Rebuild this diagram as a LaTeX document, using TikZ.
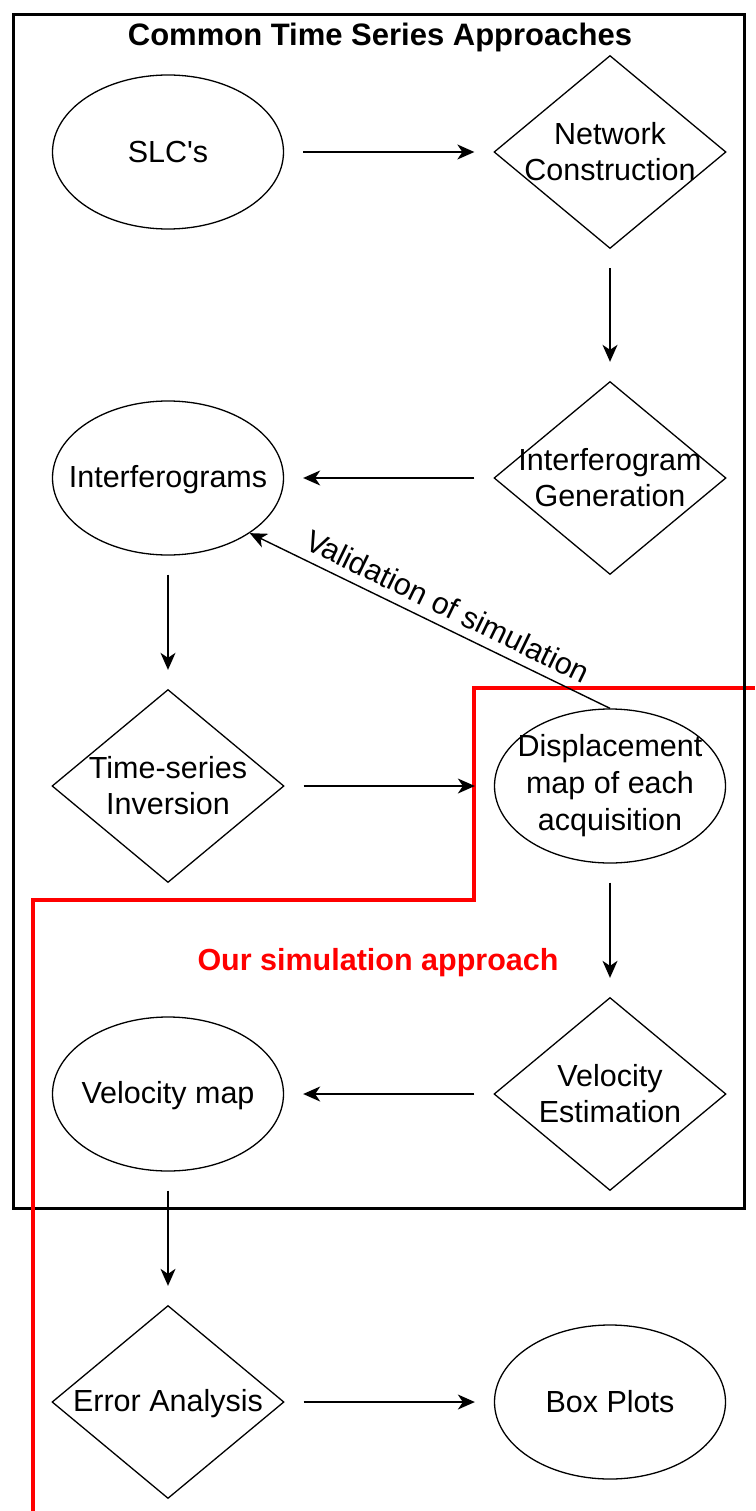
\documentclass[tikz,border=0pt]{standalone}
\usepackage{fontspec}
\setmainfont{Liberation Sans}
\usetikzlibrary{shapes.geometric,arrows.meta}

\tikzset{
  blob/.style={ellipse, draw, line width=1.3pt, minimum width=231pt, minimum height=154pt, inner sep=0pt},
  gem/.style={diamond, draw, line width=1.3pt, minimum width=232pt, minimum height=193pt, inner sep=0pt},
  tx/.style={align=center, inner sep=0pt, font=\fontsize{30.5}{36}\selectfont},
  flow/.style={-{Stealth[length=17pt,width=15pt,inset=5pt]}, line width=1.4pt, shorten <=19pt, shorten >=19pt},
  frame/.style={line width=3pt, line join=miter},
  simline/.style={draw=red, line width=3.3pt, line join=miter},
}

\begin{document}
\begin{tikzpicture}[x=1pt,y=1pt]
\useasboundingbox (0,0) rectangle (755,-1511);

% outer frame of the common approaches
\draw[frame] (13,-15) rectangle (744,-1208);
\node[tx, font=\fontsize{31}{36}\selectfont\bfseries, anchor=base] (title) at (380,-46) {Common Time Series Approaches};

% boundary of the simulation approach
\coordinate (r0) at (755,-688);
\coordinate (r1) at (474,-688);
\coordinate (r2) at (474,-900);
\coordinate (r3) at (33,-900);
\coordinate (r4) at (33,-1511);
\draw[simline] (r0) -- (r1) -- (r2) -- (r3) -- (r4);
\draw[line width=3pt] (744,-670) -- (744,-710);
\node[tx, font=\fontsize{30.5}{36}\selectfont\bfseries, text=red, anchor=base] (simlabel) at (378,-970) {Our simulation approach};

% shapes
\node[blob] (slc)  at (168,-152) {};
\node[gem]  (nc)   at (610,-152) {};
\node[gem]  (igen) at (610,-478) {};
\node[blob] (ifg)  at (168,-478) {};
\node[gem]  (tsi)  at (168,-786) {};
\node[blob] (disp) at (610,-786) {};
\node[gem]  (ve)   at (610,-1094) {};
\node[blob] (vm)   at (168,-1094) {};
\node[gem]  (ea)   at (168,-1402) {};
\node[blob] (bp)   at (610,-1402) {};

% texts
\node[tx] (slc-t)  at (slc)  {SLC\textquotesingle s};
\node[tx] (nc-t)   at (nc)   {Network\\Construction};
\node[tx] (igen-t) at (igen) {Interferogram\\Generation};
\node[tx] (ifg-t)  at ([yshift=-2pt]ifg)  {Interferograms};
\node[tx] (tsi-t)  at (tsi)  {Time-series\\Inversion};
\node[tx, font=\fontsize{30.5}{37}\selectfont] (disp-t) at (disp) {Displacement\\map of each\\acquisition};
\node[tx] (ve-t)   at (ve)   {Velocity\\Estimation};
\node[tx] (vm-t)   at ([yshift=-2pt]vm)   {Velocity map};
\node[tx] (ea-t)   at ([yshift=-2pt]ea)   {Error Analysis};
\node[tx] (bp-t)   at (bp)   {Box Plots};

% connectors
\draw[flow] (slc) -- (nc);
\draw[flow] (nc) -- (igen);
\draw[flow] (igen) -- (ifg);
\draw[flow] (ifg) -- (tsi);
\draw[flow] (tsi) -- (disp);
\draw[flow] (disp) -- (ve);
\draw[flow] (ve) -- (vm);
\draw[flow] (vm) -- (ea);
\draw[flow] (ea) -- (bp);
\draw[flow, shorten <=0pt, shorten >=0pt] (disp.north) -- (ifg.-34)
  node[tx, pos=0.475, sloped, above, inner sep=9pt] (valid) {Validation of simulation};
\end{tikzpicture}
\end{document}
